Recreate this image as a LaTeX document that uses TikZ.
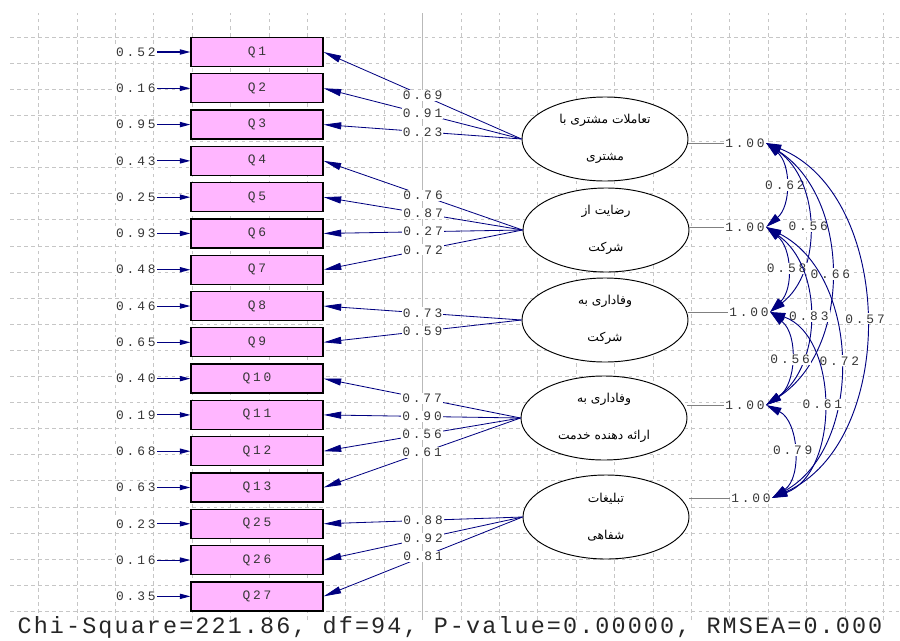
\documentclass[tikz,border=0pt]{standalone}
\usepackage{fontspec}
\usetikzlibrary{arrows.meta, positioning, shapes.geometric}
\TeXXeTstate=1
\newfontfamily\lisfont[LetterSpace=22]{Liberation Mono}
\newfontfamily\fitfont[LetterSpace=9]{Liberation Mono}
\newfontfamily\farsi[Script=Arabic]{DejaVu Sans}
\definecolor{boxpink}{RGB}{255,182,255}
\definecolor{pathblue}{RGB}{0,0,128}
\definecolor{labgray}{RGB}{55,55,55}

\begin{document}
\begin{tikzpicture}[
  x=0.03cm, y=-0.03cm,
  node distance=0.18cm,
  box/.style={draw, line width=1.1pt, fill=boxpink, minimum width=3.96cm, minimum height=0.87cm, inner sep=0pt, text=labgray, font=\lisfont\fontsize{11}{12}\selectfont},
  latent/.style={draw, ellipse, line width=0.8pt, fill=white, minimum width=4.98cm, minimum height=2.52cm, inner sep=0pt, align=center, font=\farsi\fontsize{10.5}{12}\selectfont},
  lab/.style={inner sep=1pt, fill=white, text=labgray, font=\lisfont\fontsize{11}{12}\selectfont},
  err/.style={-{Triangle[length=9pt,width=4.5pt]}, pathblue, line width=0.9pt},
  load/.style={-{Triangle[length=15pt,width=6pt]}, pathblue, line width=0.7pt},
  cor/.style={{Triangle[length=13pt,width=7pt]}-{Triangle[length=13pt,width=7pt]}, pathblue, line width=0.8pt},
  var/.style={gray, line width=0.5pt},
  gridline/.style={gray!45, line width=0.4pt, dash pattern=on 3pt off 3pt}
]
\useasboundingbox (0,0) rectangle (900,640);

\begin{scope}[shift={(0,10.9)}]
\draw[gridline, xstep=1.152cm, ystep=0.783cm] (10,609.1) grid (900,2.1);
\end{scope}
\draw[gray!55, line width=0.5pt] (422.4,13) -- (422.4,620);

\node[box] (q1) at (257,52) {Q1};
\node[box, below=of q1] (q2) {Q2};
\node[box, below=of q2] (q3) {Q3};
\node[box, below=of q3] (q4) {Q4};
\node[box, below=of q4] (q5) {Q5};
\node[box, below=of q5] (q6) {Q6};
\node[box, below=of q6] (q7) {Q7};
\node[box, below=of q7] (q8) {Q8};
\node[box, below=of q8] (q9) {Q9};
\node[box, below=of q9] (q10) {Q10};
\node[box, below=of q10] (q11) {Q11};
\node[box, below=of q11] (q12) {Q12};
\node[box, below=of q12] (q13) {Q13};
\node[box, below=of q13] (q25) {Q25};
\node[box, below=of q25] (q26) {Q26};
\node[box, below=of q26] (q27) {Q27};

\node[lab, left=1cm of q1] (e1) {0.52};
\node[lab, left=1cm of q2] (e2) {0.16};
\node[lab, left=1cm of q3] (e3) {0.95};
\node[lab, left=1cm of q4] (e4) {0.43};
\node[lab, left=1cm of q5] (e5) {0.25};
\node[lab, left=1cm of q6] (e6) {0.93};
\node[lab, left=1cm of q7] (e7) {0.48};
\node[lab, left=1cm of q8] (e8) {0.46};
\node[lab, left=1cm of q9] (e9) {0.65};
\node[lab, left=1cm of q10] (e10) {0.40};
\node[lab, left=1cm of q11] (e11) {0.19};
\node[lab, left=1cm of q12] (e12) {0.68};
\node[lab, left=1cm of q13] (e13) {0.63};
\node[lab, left=1cm of q25] (e25) {0.23};
\node[lab, left=1cm of q26] (e26) {0.16};
\node[lab, left=1cm of q27] (e27) {0.35};

\draw[err] (e1) -- (q1);
\draw[err] (e2) -- (q2);
\draw[err] (e3) -- (q3);
\draw[err] (e4) -- (q4);
\draw[err] (e5) -- (q5);
\draw[err] (e6) -- (q6);
\draw[err] (e7) -- (q7);
\draw[err] (e8) -- (q8);
\draw[err] (e9) -- (q9);
\draw[err] (e10) -- (q10);
\draw[err] (e11) -- (q11);
\draw[err] (e12) -- (q12);
\draw[err] (e13) -- (q13);
\draw[err] (e25) -- (q25);
\draw[err] (e26) -- (q26);
\draw[err] (e27) -- (q27);

\node[latent] (f1) at (605,139) {\beginR تعاملات مشتری با\endR\\[20pt]\beginR مشتری\endR};
\node[latent] (f2) at (606,230) {\beginR رضایت از\endR\\[20pt]\beginR شرکت\endR};
\node[latent] (f3) at (605,320) {\beginR وفاداری به\endR\\[20pt]\beginR شرکت\endR};
\node[latent] (f4) at (604,418) {\beginR وفاداری به\endR\\[20pt]\beginR ارائه دهنده خدمت\endR};
\node[latent] (f5) at (606,517) {\beginR تبلیغات\endR\\[20pt]\beginR شفاهی\endR};

\draw[load] (f1.west) -- node[lab] {0.69} (q1.east);
\draw[load] (f1.west) -- node[lab] {0.91} (q2.east);
\draw[load] (f1.west) -- node[lab] {0.23} (q3.east);
\draw[load] (f2.west) -- node[lab] {0.76} (q4.east);
\draw[load] (f2.west) -- node[lab] {0.87} (q5.east);
\draw[load] (f2.west) -- node[lab] {0.27} (q6.east);
\draw[load] (f2.west) -- node[lab] {0.72} (q7.east);
\draw[load] (f3.west) -- node[lab] {0.73} (q8.east);
\draw[load] (f3.west) -- node[lab] {0.59} (q9.east);
\draw[load] (f4.west) -- node[lab] {0.77} (q10.east);
\draw[load] (f4.west) -- node[lab] {0.90} (q11.east);
\draw[load] (f4.west) -- node[lab] {0.56} (q12.east);
\draw[load] (f4.west) -- node[lab] {0.61} (q13.east);
\draw[load] (f5.west) -- node[lab] {0.88} (q25.east);
\draw[load] (f5.west) -- node[lab] {0.92} (q26.east);
\draw[load] (f5.west) -- node[lab] {0.81} (q27.east);

\node[lab] (v1) at (745,143) {1.00};
\node[lab] (v2) at (745,227) {1.00};
\node[lab] (v3) at (749,312) {1.00};
\node[lab] (v4) at (745,405) {1.00};
\node[lab] (v5) at (751,498) {1.00};

\draw[var] (f1.east |- v1.west) -- (v1.west);
\draw[var] (f2.east |- v2.west) -- (v2.west);
\draw[var] (f3.east |- v3.west) -- (v3.west);
\draw[var] (f4.east |- v4.west) -- (v4.west);
\draw[var] (f5.east |- v5.west) -- (v5.west);

\draw[cor] (v1.east) to[bend left=50] node[lab] {0.62} (v2.east);
\draw[cor] (v1.east) to[bend left=54] node[lab] {0.56} (v3.east);
\draw[cor] (v2.east) to[bend left=48] node[lab] {0.58} (v3.east);
\draw[cor] (v1.east) to[bend left=57] node[lab] {0.66} (v4.east);
\draw[cor] (v2.east) to[bend left=55] node[lab] {0.83} (v4.east);
\draw[cor] (v1.east) to[bend left=67] node[lab] {0.57} (v5.east);
\draw[cor] (v3.east) to[bend left=54] node[lab] {0.56} (v4.east);
\draw[cor] (v2.east) to[bend left=62] node[lab] {0.72} (v5.east);
\draw[cor] (v3.east) to[bend left=70] node[lab] {0.61} (v5.east);
\draw[cor] (v4.east) to[bend left=60] node[lab] {0.79} (v5.east);

\node[text=black!85, font=\fitfont\fontsize{20}{24}\selectfont] (fitstats) at (450,627) {Chi-Square=221.86, df=94, P-value=0.00000, RMSEA=0.000};

\end{tikzpicture}
\end{document}
